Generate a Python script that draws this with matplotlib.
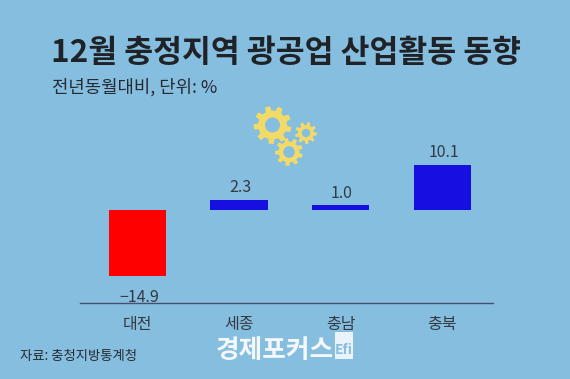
import numpy as np
import matplotlib
matplotlib.use("Agg")
import matplotlib.pyplot as plt
from matplotlib.patches import Polygon, Circle, Rectangle

plt.rcParams['font.family'] = ['Noto Sans CJK KR', 'DejaVu Sans']

regions = ['대전', '세종', '충남', '충북']
values = [-14.9, 2.3, 1.0, 10.1]
labels = ['\u221214.9', '2.3', '1.0', '10.1']
bar_colors = ['#FF0000', '#170FE0', '#170FE0', '#170FE0']
title = '12월 충정지역 광공업 산업활동 동향'
subtitle = '전년동월대비, 단위: %'
source = '자료: 충청지방통계청'
logo = '경제포커스'

W, H = 570, 379
BG = '#86BEDF'
fig = plt.figure(figsize=(W / 100, H / 100), dpi=100, facecolor=BG)

ov = fig.add_axes([0, 0, 1, 1], zorder=0)
ov.set_xlim(0, W)
ov.set_ylim(H, 0)
ov.axis('off')

L, R, T, B = 80, 493, 110, 303
ax = fig.add_axes([L / W, 1 - B / H, (R - L) / W, (B - T) / H], zorder=1)
ax.patch.set_alpha(0)
x = np.arange(len(regions))
ax.bar(x, values, width=0.565, color=bar_colors, linewidth=0)
ax.set_xlim(-0.566, 3.5)
ax.set_ylim(-20.85, 22.4)
ax.set_xticks(x, regions)
ax.set_yticks([])
for s in ['top', 'left', 'right']:
    ax.spines[s].set_visible(False)
ax.spines['bottom'].set_color('#474F70')
ax.spines['bottom'].set_linewidth(1.0)
ax.tick_params(axis='x', length=0, pad=9, labelsize=11.5, labelcolor='#333A45')

for xi, v, s in zip(x, values, labels):
    if v >= 0:
        ax.annotate(s, (xi, v), xytext=(1, 2.5), textcoords='offset points',
                    ha='center', va='bottom', fontsize=11.5, color='#333A45')
    else:
        ax.annotate(s, (xi, v), xytext=(1, -9), textcoords='offset points',
                    ha='center', va='top', fontsize=11.5, color='#333A45')

ov.text(286, 53, title, ha='center', va='center', fontsize=22.6,
        fontweight='bold', color='#1F2328')
ov.text(52, 87, subtitle, ha='left', va='center', fontsize=12.8, color='#262B33')
ov.text(20, 356, source, ha='left', va='center', fontsize=9.6, color='#262B33')
ov.text(275, 350, logo, ha='center', va='center', fontsize=18.5,
        fontweight='black', color='#F4F8FB', zorder=3)
ov.add_patch(Rectangle((335, 332), 18, 27, color='#EAF3F9', lw=0, zorder=3))
ov.text(344, 350, 'Efi', ha='center', va='center', fontsize=10,
        fontweight='bold', color=BG, zorder=4)


def gear(cx, cy, r_out, r_in, r_hole, n, phase=0.0):
    pts = []
    for i in range(n):
        a = phase + 2 * np.pi * i / n
        w = 2 * np.pi / n
        for da, r in [(-0.30, r_in), (-0.19, r_out), (0.19, r_out), (0.30, r_in)]:
            pts.append((cx + r * np.cos(a + da * w), cy + r * np.sin(a + da * w)))
    ov.add_patch(Polygon(pts, closed=True, color='#F2DA68', lw=0, zorder=2))
    ov.add_patch(Circle((cx, cy), r_hole, color=BG, lw=0, zorder=2.1))


gear(272.5, 125, 19, 14.5, 7.5, 9, 0.25)
gear(306, 133, 11, 8.0, 4.2, 9, 0.1)
gear(289, 152, 14, 10.5, 5.8, 9, 0.3)

fig.savefig('out.png', dpi=100, facecolor=BG)
